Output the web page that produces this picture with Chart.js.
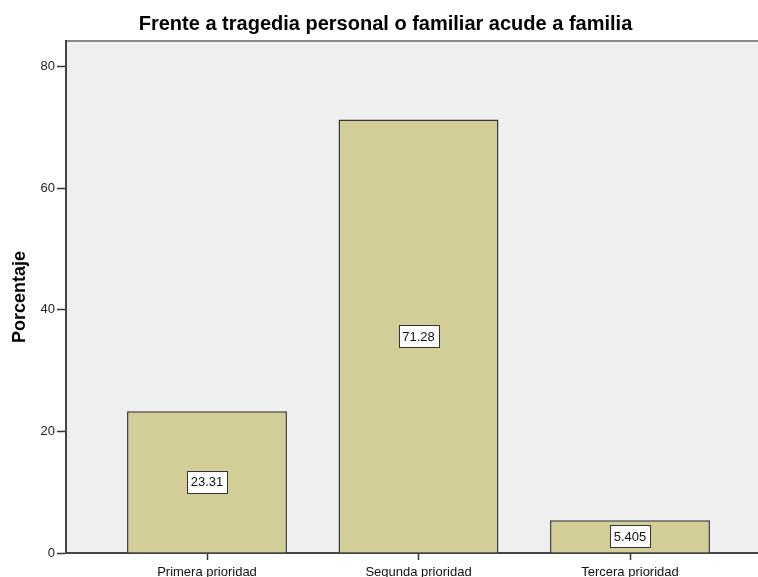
<!DOCTYPE html>
<html lang="es">
<head>
  <meta charset="UTF-8" />
  <title>Frente a tragedia personal o familiar acude a familia</title>
  <script src="https://cdn.jsdelivr.net/npm/chart.js"></script>
  <style>
    html, body {
      margin: 0;
      padding: 0;
      background: #fff;
      overflow: hidden;
    }

    /* slightly wider than the window: the right edge of the plot is cropped like the original */
    .chart-wrap {
      width: 772px;
      height: 577px;
    }
  </style>
</head>
<body>

  <div class="chart-wrap">
    <canvas id="chart" width="772" height="577"></canvas>
  </div>

  <script>
    const categories = ['Primera prioridad', 'Segunda prioridad', 'Tercera prioridad'];
    const percentages = [23.31, 71.28, 5.405];
    const valueLabels = ['23.31', '71.28', '5.405'];
    const yTicks = [0, 20, 40, 60, 80];

    Chart.defaults.font.family = 'Arial, "Liberation Sans", sans-serif';

    // grey plot background + top frame line
    const plotFrame = {
      id: 'plotFrame',
      beforeDraw(chart) {
        const { ctx, chartArea: a } = chart;
        ctx.save();
        ctx.fillStyle = '#efefef';
        ctx.fillRect(a.left, a.top, a.right - a.left, a.bottom - a.top);
        ctx.strokeStyle = '#8a8a8a';
        ctx.lineWidth = 2;
        ctx.beginPath();
        ctx.moveTo(a.left, a.top);
        ctx.lineTo(a.right, a.top);
        ctx.stroke();
        ctx.restore();
      }
    };

    // boxed value labels in the middle of each bar
    const boxedLabels = {
      id: 'boxedLabels',
      afterDatasetsDraw(chart) {
        const ctx = chart.ctx;
        const meta = chart.getDatasetMeta(0);
        ctx.save();
        ctx.font = '13px Arial, "Liberation Sans", sans-serif';
        ctx.textAlign = 'center';
        ctx.textBaseline = 'middle';
        meta.data.forEach((bar, i) => {
          const text = valueLabels[i];
          const cx = bar.x;
          const cy = (bar.y + bar.base) / 2;
          const w = Math.round(ctx.measureText(text).width + 7);
          const h = 22;
          const x0 = Math.round(cx - w / 2) + 0.5;
          const y0 = Math.round(cy - h / 2) + 0.5;
          ctx.fillStyle = '#fff';
          ctx.fillRect(x0, y0, w, h);
          ctx.strokeStyle = '#333';
          ctx.lineWidth = 1;
          ctx.strokeRect(x0, y0, w, h);
          ctx.fillStyle = '#111';
          ctx.fillText(text, cx, cy + 1);
        });
        ctx.restore();
      }
    };

    new Chart(document.getElementById('chart'), {
      type: 'bar',
      data: {
        datasets: [{
          data: percentages.map((v, i) => ({ x: i, y: v })),
          backgroundColor: '#d3ce97',
          borderColor: '#363636',
          borderWidth: 1.5,
          barPercentage: 0.756,
          categoryPercentage: 1
        }]
      },
      options: {
        responsive: false,
        animation: false,
        layout: { padding: { left: 0, right: 1, top: 0, bottom: 0 } },
        plugins: {
          legend: { display: false },
          tooltip: { enabled: false },
          title: {
            display: true,
            text: 'Frente a tragedia personal o familiar acude a familia',
            color: '#000',
            font: { size: 20, weight: 'bold' },
            padding: { top: 12, bottom: 5 }
          }
        },
        scales: {
          x: {
            type: 'linear',
            offset: false,
            min: -2 / 3,
            max: 8 / 3,
            afterBuildTicks: s => { s.ticks = categories.map((c, i) => ({ value: i })); },
            afterFit: s => { s.height = 24; },
            ticks: {
              callback: v => categories[v] ?? '',
              color: '#111',
              font: { size: 13 },
              padding: 5,
              maxRotation: 0,
              autoSkip: false
            },
            grid: { offset: false, drawOnChartArea: false, tickLength: 7, tickColor: '#333', tickWidth: 1.5 },
            border: { color: '#444', width: 2 }
          },
          y: {
            min: 0,
            max: 84.2,
            afterBuildTicks: s => { s.ticks = yTicks.map(v => ({ value: v })); },
            afterFit: s => { s.width = 66; },
            ticks: { color: '#222', font: { size: 13 }, padding: 2 },
            grid: { drawOnChartArea: false, tickLength: 9, tickColor: '#333', tickWidth: 1.5 },
            border: { color: '#444', width: 2 },
            title: {
              display: true,
              text: 'Porcentaje',
              color: '#000',
              font: { size: 18, weight: 'bold' },
              padding: { top: 9, bottom: 0 }
            }
          }
        }
      },
      plugins: [plotFrame, boxedLabels]
    });
  </script>

</body>
</html>
